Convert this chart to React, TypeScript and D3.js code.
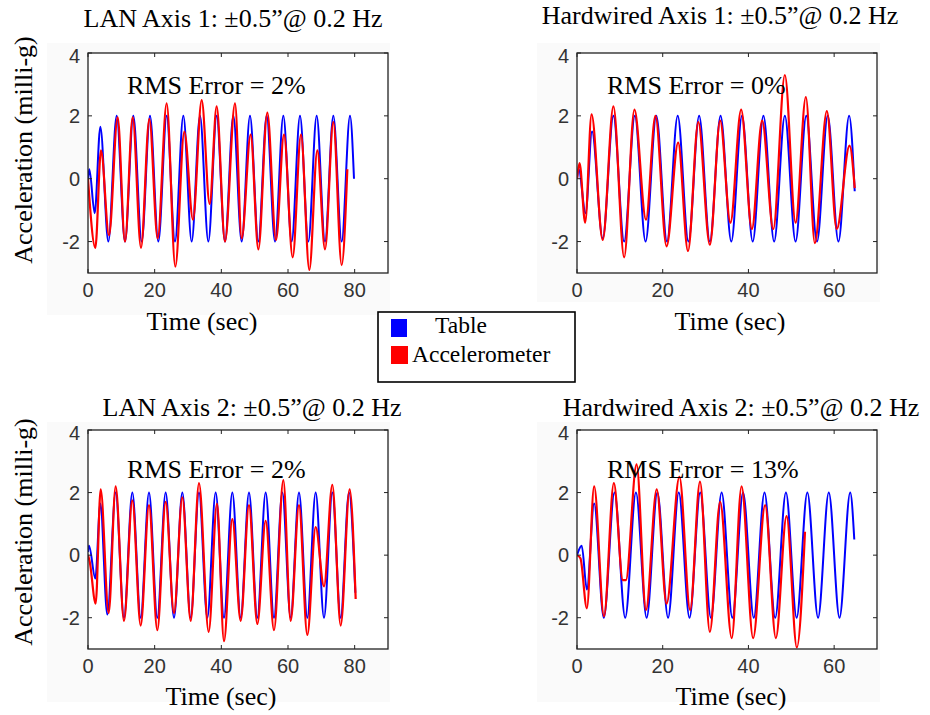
import React from "react";
import * as d3 from "d3";

// ---------- data ----------
const yTicks = [-2, 0, 2, 4];
const xTicksLan = [0, 20, 40, 60, 80];
const xTicksHw = [0, 20, 40, 60];
const titles = [
  "LAN Axis 1: \u00b10.5\u201d@ 0.2 Hz",
  "Hardwired Axis 1: \u00b10.5\u201d@ 0.2 Hz",
  "LAN Axis 2: \u00b10.5\u201d@ 0.2 Hz",
  "Hardwired Axis 2: \u00b10.5\u201d@ 0.2 Hz",
];
const rmsLabels = ["RMS Error = 2%", "RMS Error = 0%", "RMS Error = 2%", "RMS Error = 13%"];
const legendLabels = ["Table", "Accelerometer"];

// [time (s), acceleration (milli-g)] at turning points
const lan1Table = [
  [0, 0], [0.4, 0.3], [2.0, -1.1], [3.7, 1.65], [6.1, -2], [8.6, 2], [11.1, -2], [13.6, 2], [16.1, -2],
  [18.6, 2], [21.1, -2], [23.6, 2], [26.1, -2], [28.6, 2], [31.1, -2], [33.6, 2], [36.1, -2], [38.6, 2],
  [41.1, -2], [43.6, 2], [46.1, -2], [48.6, 2], [51.1, -2], [53.6, 2], [56.1, -2], [58.6, 2], [61.1, -2],
  [63.6, 2], [66.1, -2], [68.6, 2], [71.1, -2], [73.6, 2], [76.1, -2], [78.6, 2], [79.8, 0],
];
const lan1Accel = [
  [0, 0], [2.2, -2.2], [3.9, 0.9], [6.3, -1.8], [8.9, 1.95], [11.1, -2.0], [13.4, 1.95], [15.9, -2.2],
  [18.4, 1.9], [20.9, -1.9], [23.6, 2.4], [26.2, -2.8], [28.9, 1.5], [31.5, -1.3], [34.1, 2.5], [36.5, -0.8],
  [38.6, 2.3], [41.1, -2.0], [44.1, 2.4], [46.1, -1.9], [48.8, 1.4], [51.1, -2.25], [53.8, 2.1], [56.4, -1.95],
  [58.8, 1.4], [61.4, -2.5], [63.9, 1.4], [66.4, -2.9], [68.8, 0.9], [71.1, -2.25], [73.6, 1.8], [76.1, -2.75],
  [77.8, 0.3],
];
const hw1Table = [
  [0, 0], [0.4, 0.3], [2.0, -1.1], [3.5, 1.5], [6.0, -1.9], [8.5, 2], [11.0, -2], [13.5, 2], [16.0, -2],
  [18.5, 2], [21.0, -2], [23.5, 2], [26.0, -2], [28.5, 2], [31.0, -2], [33.5, 2], [36.0, -2], [38.5, 2],
  [41.0, -2], [43.5, 2], [46.0, -2], [48.5, 2], [51.0, -2], [53.5, 2], [56.0, -2], [58.5, 2], [61.0, -2],
  [63.5, 2], [64.8, -0.4],
];
const hw1Accel = [
  [0, 0], [0.6, 0.5], [1.9, -1.4], [3.4, 2.05], [6.0, -1.95], [8.5, 2.3], [11.0, -2.5], [13.4, 2.2],
  [16.1, -1.3], [18.3, 2.0], [20.9, -2.15], [23.6, 1.15], [25.9, -2.3], [28.3, 1.8], [31.0, -2.1],
  [33.4, 1.85], [35.8, -1.4], [38.3, 2.2], [40.8, -1.6], [43.2, 1.85], [45.8, -1.6], [48.5, 3.3],
  [51.0, -1.4], [53.4, 2.6], [55.5, -2.05], [58.3, 2.15], [60.6, -1.6], [63.6, 1.05], [64.8, -0.3],
];
const lan2Table = [
  [0, 0.1], [0.3, 0.3], [2.2, -0.75], [3.7, 1.65], [5.8, -1.9], [8.3, 2], [10.8, -2], [13.3, 2], [15.8, -2],
  [18.3, 2], [20.8, -2], [23.3, 2], [25.8, -2], [28.3, 2], [30.8, -2], [33.3, 2], [35.8, -2], [38.3, 2],
  [40.8, -2], [43.3, 2], [45.8, -2], [48.3, 2], [50.8, -2], [53.3, 2], [55.8, -2], [58.3, 2], [60.8, -2],
  [63.3, 2], [65.8, -2], [68.3, 2], [70.8, -2], [73.3, 2], [75.8, -2], [78.3, 2], [80.2, -1.2],
];
const lan2Accel = [
  [0, 0], [0.5, -0.2], [2.3, -1.55], [3.8, 2.1], [6.2, -1.85], [8.3, 2.2], [10.8, -2.1], [13.3, 1.75],
  [15.8, -2.25], [18.3, 1.6], [20.8, -2.4], [23.3, 1.7], [25.8, -1.85], [28.3, 1.85], [30.8, -2.1],
  [33.3, 2.3], [36.2, -2.45], [38.7, 1.65], [40.8, -2.75], [43.3, 1.15], [45.8, -2.1], [48.3, 1.6],
  [50.8, -2.2], [53.3, 1.1], [55.8, -2.4], [58.6, 2.4], [60.8, -2.1], [63.3, 1.6], [65.8, -2.55],
  [68.3, 0.9], [70.8, -1.0], [73.3, 2.25], [75.8, -2.25], [78.5, 2.1], [80.3, -1.4],
];
const hw2Table = [
  [0, 0], [1.1, 0.3], [2.3, -1.1], [4.0, 1.65], [6.25, -2], [8.75, 2], [11.25, -2], [13.75, 2], [16.25, -2],
  [18.75, 2], [21.25, -2], [23.75, 2], [26.25, -2], [28.75, 2], [31.25, -2], [33.75, 2], [36.25, -2],
  [38.75, 2], [41.25, -2], [43.75, 2], [46.25, -2], [48.75, 2], [51.25, -2], [53.75, 2], [56.25, -2],
  [58.75, 2], [61.25, -2], [63.75, 2], [64.7, 0.5],
];
const hw2Accel = [
  [0, 0], [0.8, -0.1], [2.3, -1.7], [4.0, 2.2], [6.3, -1.95], [8.6, 2.3], [10.7, -0.8], [11.4, -0.8],
  [13.9, 2.9], [16.1, -1.75], [18.6, 2.1], [20.9, -1.55], [23.9, 2.5], [26.4, -1.75], [28.7, 2.35],
  [31.0, -2.45], [33.4, 1.7], [36.1, -2.65], [38.4, 2.2], [41.1, -2.65], [43.9, 1.6], [46.4, -2.65],
  [48.9, 1.25], [51.3, -2.95], [53.2, 0.75],
];

// ---------- layout ----------
const SERIF = "'Liberation Serif', 'Times New Roman', serif";
const SANS = "'Liberation Sans', Arial, sans-serif";
const BLUE = "#0000ff";
const RED = "#ff0000";

type Pt = number[];
interface PanelSpec {
  x0: number; x1: number; y0: number; y1: number; xMax: number; xTicks: number[];
  title: string; titleX: number; titleY: number;
  rms: string; rmsX: number; rmsY: number;
  xLabelX: number; xLabelY: number;
  bg: [number, number, number, number];
  table: Pt[]; accel: Pt[];
}

const panels: PanelSpec[] = [
  { x0: 88, x1: 388, y0: 53, y1: 273, xMax: 90, xTicks: xTicksLan, title: titles[0], titleX: 233, titleY: 27,
    rms: rmsLabels[0], rmsX: 127, rmsY: 94, xLabelX: 202, xLabelY: 330, bg: [47, 43, 390, 315],
    table: lan1Table, accel: lan1Accel },
  { x0: 577, x1: 877, y0: 53, y1: 273, xMax: 70, xTicks: xTicksHw, title: titles[1], titleX: 720, titleY: 24,
    rms: rmsLabels[1], rmsX: 607, rmsY: 94, xLabelX: 730, xLabelY: 330, bg: [537, 43, 880, 302],
    table: hw1Table, accel: hw1Accel },
  { x0: 88, x1: 388, y0: 430, y1: 649, xMax: 90, xTicks: xTicksLan, title: titles[2], titleX: 252, titleY: 416,
    rms: rmsLabels[2], rmsX: 127, rmsY: 478, xLabelX: 221, xLabelY: 705, bg: [47, 422, 390, 702],
    table: lan2Table, accel: lan2Accel },
  { x0: 577, x1: 877, y0: 430, y1: 649, xMax: 70, xTicks: xTicksHw, title: titles[3], titleX: 741, titleY: 416,
    rms: rmsLabels[3], rmsX: 607, rmsY: 478, xLabelX: 731, xLabelY: 705, bg: [537, 422, 880, 702],
    table: hw2Table, accel: hw2Accel },
];

function Panel({ p, idx }: { p: PanelSpec; idx: number }) {
  const x = d3.scaleLinear().domain([0, p.xMax]).range([p.x0, p.x1]);
  const y = d3.scaleLinear().domain([-3, 4]).range([p.y1, p.y0]);
  const line = d3
    .line<Pt>()
    .x((d) => x(d[0]))
    .y((d) => y(d[1]))
    .curve(d3.curveMonotoneX);
  const clipId = `clip${idx}`;
  const tk = 4;
  return (
    <g>
      <rect x={p.bg[0]} y={p.bg[1]} width={p.bg[2] - p.bg[0]} height={p.bg[3] - p.bg[1]} fill="#fafafa" />
      <rect x={p.x0} y={p.y0} width={p.x1 - p.x0} height={p.y1 - p.y0} fill="#ffffff" />
      <clipPath id={clipId}>
        <rect x={p.x0} y={p.y0} width={p.x1 - p.x0} height={p.y1 - p.y0} />
      </clipPath>
      <g clipPath={`url(#${clipId})`}>
        <path d={line(p.table) || ""} fill="none" stroke={BLUE} strokeWidth={2} strokeLinejoin="round" />
        <path d={line(p.accel) || ""} fill="none" stroke={RED} strokeWidth={2.2} strokeLinejoin="round" />
      </g>
      <rect x={p.x0} y={p.y0} width={p.x1 - p.x0} height={p.y1 - p.y0} fill="none" stroke="#222" strokeWidth={1.3} />
      {p.xTicks.map((t) => (
        <g key={"x" + t}>
          <line x1={x(t)} x2={x(t)} y1={p.y1} y2={p.y1 - tk} stroke="#222" />
          <line x1={x(t)} x2={x(t)} y1={p.y0} y2={p.y0 + tk} stroke="#222" />
          <text x={x(t)} y={p.y1 + 24} textAnchor="middle" fontFamily={SANS} fontSize={20} fill="#333">
            {t}
          </text>
        </g>
      ))}
      {yTicks.map((t) => (
        <g key={"y" + t}>
          <line x1={p.x0} x2={p.x0 + tk} y1={y(t)} y2={y(t)} stroke="#222" />
          <line x1={p.x1} x2={p.x1 - tk} y1={y(t)} y2={y(t)} stroke="#222" />
          <text x={p.x0 - 8} y={y(t) + (t === 4 ? 10 : 7)} textAnchor="end" fontFamily={SANS} fontSize={20} fill="#333">
            {t}
          </text>
        </g>
      ))}
      <text x={p.titleX} y={p.titleY} textAnchor="middle" fontFamily={SERIF} fontSize={26} fill="#000">
        {p.title}
      </text>
      <text x={p.rmsX} y={p.rmsY} fontFamily={SERIF} fontSize={26} fill="#000">
        {p.rms}
      </text>
      <text x={p.xLabelX} y={p.xLabelY} textAnchor="middle" fontFamily={SERIF} fontSize={26} fill="#000">
        Time (sec)
      </text>
    </g>
  );
}

export default function App() {
  return (
    <svg width={930} height={715} style={{ position: "absolute", left: 0, top: 0, background: "#fff" }}>
      <rect x={0} y={0} width={930} height={715} fill="#fff" />
      {panels.map((p, i) => (
        <Panel key={i} p={p} idx={i} />
      ))}
      <text transform="translate(32,150) rotate(-90)" textAnchor="middle" fontFamily={SERIF} fontSize={26} fill="#000">
        Acceleration (milli-g)
      </text>
      <text transform="translate(32,532) rotate(-90)" textAnchor="middle" fontFamily={SERIF} fontSize={26} fill="#000">
        Acceleration (milli-g)
      </text>
      <g>
        <rect x={378} y={312} width={197} height={70} fill="#fff" stroke="#000" strokeWidth={1.6} />
        <rect x={391} y={319} width={16} height={18} fill={BLUE} />
        <rect x={391} y={346} width={17} height={18} fill={RED} />
        <text x={435} y={333} fontFamily={SERIF} fontSize={23.5} fill="#000">{legendLabels[0]}</text>
        <text x={412} y={362} fontFamily={SERIF} fontSize={23.5} fill="#000">{legendLabels[1]}</text>
      </g>
    </svg>
  );
}
